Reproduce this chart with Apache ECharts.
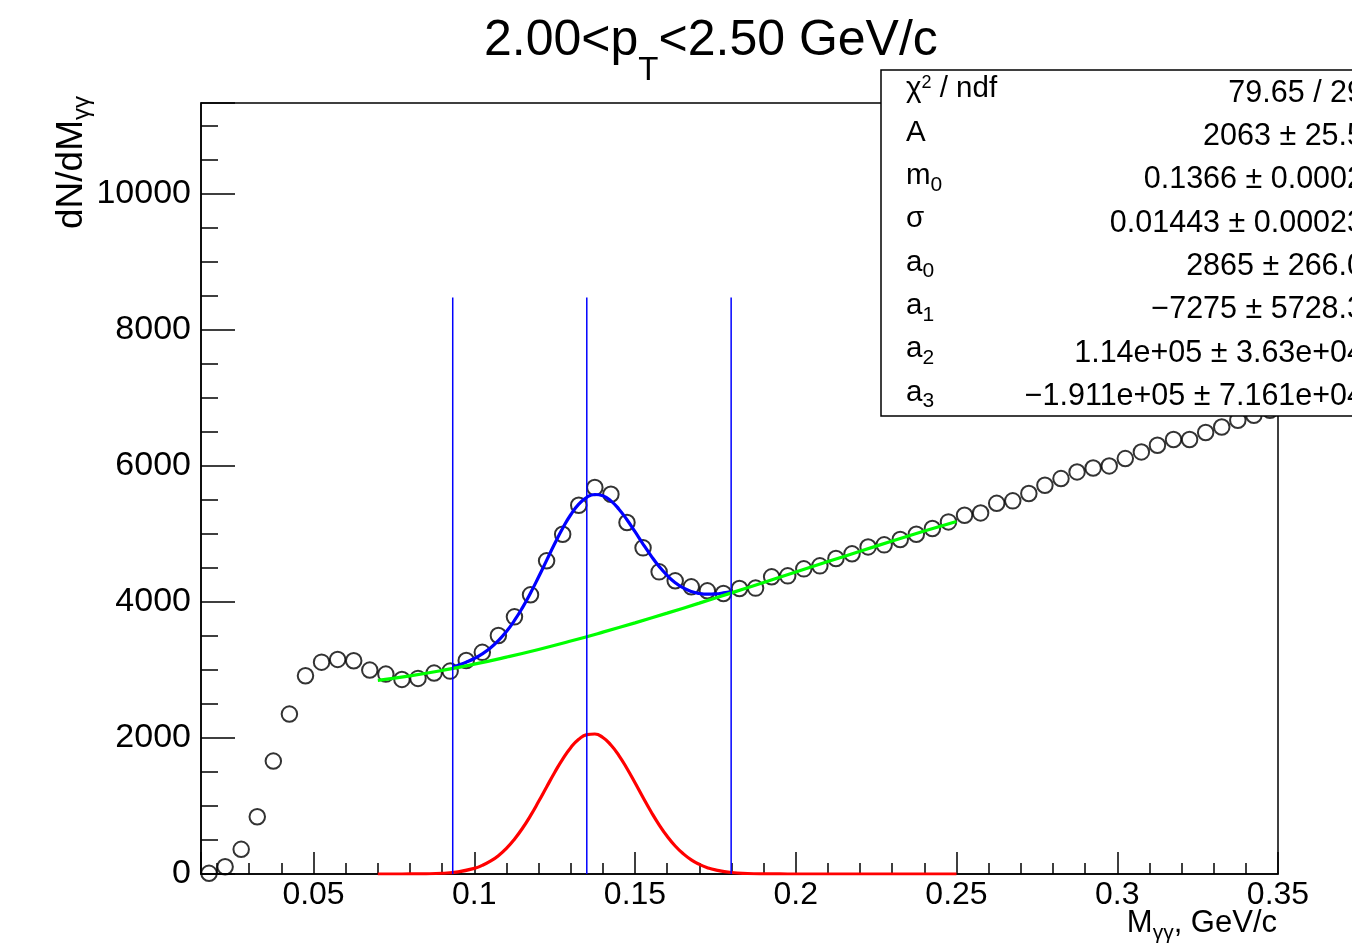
<!DOCTYPE html>
<html>
<head>
<meta charset="utf-8">
<script src="https://cdn.jsdelivr.net/npm/echarts@6/dist/echarts.min.js"></script>
<style>html,body{margin:0;padding:0;background:#fff}#c{width:1352px;height:951px}</style>
</head>
<body>
<div id="c"></div>
<script>
// ---- data ----
const binCenters = [0.0175,0.0225,0.0275,0.0325,0.0375,0.0425,0.0475,0.0525,0.0575,0.0625,
  0.0675,0.0725,0.0775,0.0825,0.0875,0.0925,0.0975,0.1025,0.1075,0.1125,
  0.1175,0.1225,0.1275,0.1325,0.1375,0.1425,0.1475,0.1525,0.1575,0.1625,
  0.1675,0.1725,0.1775,0.1825,0.1875,0.1925,0.1975,0.2025,0.2075,0.2125,
  0.2175,0.2225,0.2275,0.2325,0.2375,0.2425,0.2475,0.2525,0.2575,0.2625,
  0.2675,0.2725,0.2775,0.2825,0.2875,0.2925,0.2975,0.3025,0.3075,0.3125,
  0.3175,0.3225,0.3275,0.3325,0.3375,0.3425,0.3475];
const counts = [10,107,363,842,1661,2352,2915,3116,3156,3136,
  2999,2940,2862,2877,2955,2984,3140,3260,3508,3782,
  4106,4606,4998,5424,5684,5586,5170,4797,4444,4312,
  4224,4165,4126,4200,4205,4371,4385,4488,4532,4640,
  4709,4811,4841,4920,4998,5081,5179,5277,5311,5452,
  5488,5596,5718,5816,5914,5972,6002,6110,6208,6306,
  6390,6390,6493,6575,6674,6747,6820];

const bgX = [0.07,0.08,0.09,0.10,0.11,0.12,0.13,0.14,0.15,0.16,0.17,0.18,0.19,0.20,0.21,0.22,0.23,0.24,0.25];
const bgY = [2849,2915,2994,3086,3190,3303,3426,3557,3694,3837,3984,4135,4287,4441,4595,4747,4897,5044,5185];

const sigX = [0.07,0.075,0.08,0.085,0.09,0.095,0.1,0.1025,0.105,0.1075,0.11,0.1125,0.115,0.1175,0.12,0.1225,
  0.125,0.1275,0.13,0.1325,0.135,0.1375,0.14,0.1425,0.145,0.1475,0.15,0.1525,0.155,0.1575,0.16,0.1625,
  0.165,0.1675,0.17,0.1725,0.175,0.18,0.185,0.19,0.195,0.2,0.25];
const sigY = [0,0,1,3,11,32,83,127,188,270,377,512,673,859,1065,1280,
  1493,1691,1858,1981,2050,2059,2007,1898,1742,1551,1341,1124,915,723,554,412,
  298,208,142,93,60,22,7,2,1,0,0];

const totX = [0.0933,0.095,0.0975,0.1,0.1025,0.105,0.1075,0.11,0.1125,0.115,0.1175,0.12,
  0.1225,0.125,0.1275,0.13,0.1325,0.135,0.1375,0.14,0.1425,0.145,0.1475,0.15,
  0.1525,0.155,0.1575,0.16,0.1625,0.165,0.1675,0.17,0.1725,0.175,0.1775,0.1799];
const totY = [3046,3071,3115,3169,3238,3324,3433,3567,3729,3918,4133,4368,
  4613,4857,5085,5284,5439,5541,5582,5563,5488,5366,5210,5034,
  4853,4680,4523,4391,4285,4207,4155,4126,4115,4119,4134,4156];

const limitX = [0.0933, 0.135, 0.1799];
const limitTop = 8480;

const xRange = [0.015, 0.35];
const yRange = [0, 11340];
const yLabelStep = 2000;
const xLabelStep = 0.05;

const statLabels = ['{n|\u03c7}{sp|2}{n| / ndf}','{n|A}','{n|m}{sb|0}','{n|\u03c3}','{n|a}{sb|0}','{n|a}{sb|1}','{n|a}{sb|2}','{n|a}{sb|3}'];
const statValues = ['79.65 / 29','2063 \u00b1 25.5','0.1366 \u00b1 0.0002','0.01443 \u00b1 0.00023','2865 \u00b1 266.0','\u22127275 \u00b1 5728.3','1.14e+05 \u00b1 3.63e+04','\u22121.911e+05 \u00b1 7.161e+04'];

// ---- chart ----
const FONT = '"Liberation Sans", Arial, Helvetica, sans-serif';
const zip = (xs, ys) => xs.map((x, i) => [x, ys[i]]);
const chart = echarts.init(document.getElementById('c'), null, {renderer: 'canvas'});

const series = [
  {type: 'scatter', name: 'data', data: zip(binCenters, counts), symbol: 'circle', symbolSize: 15.5,
   itemStyle: {color: 'rgba(0,0,0,0)', borderColor: '#000', borderWidth: 2}, z: 2, silent: true},
  {type: 'line', name: 'total', data: zip(totX, totY), smooth: true, showSymbol: false,
   lineStyle: {color: '#0000ff', width: 3.2}, z: 3, silent: true},
  {type: 'line', name: 'bg', data: zip(bgX, bgY), smooth: true, showSymbol: false,
   lineStyle: {color: '#00ff00', width: 3.2}, z: 4, silent: true},
  {type: 'line', name: 'signal', data: zip(sigX, sigY), smooth: true, showSymbol: false,
   lineStyle: {color: '#ff0000', width: 3.2}, z: 4, silent: true}
];
limitX.forEach(x => series.push({type: 'line', data: [[x, 0], [x, limitTop]], showSymbol: false,
  lineStyle: {color: '#0000ff', width: 1.5}, z: 5, silent: true}));

const rowY0 = 93.3, rowDy = 43.34;
const graphic = [
  {type: 'text', x: 484, y: 41, z: 100, style: {
    text: '{m|2.00<p}{s|T}{m|<2.50 GeV/c}', textVerticalAlign: 'middle', textAlign: 'left', fill: '#000',
    rich: {m: {fontSize: 50, fontFamily: FONT, lineHeight: 60, fill: '#000'},
           s: {fontSize: 33, fontFamily: FONT, lineHeight: 60, padding: [60, 0, 0, 0], fill: '#000'}}}},
  {type: 'text', x: 72, y: 229, rotation: Math.PI / 2, z: 100, style: {
    text: '{m|dN/dM}{s|\u03b3\u03b3}', textVerticalAlign: 'middle', textAlign: 'left', fill: '#000',
    rich: {m: {fontSize: 37, fontFamily: FONT, lineHeight: 50, fill: '#000'},
           s: {fontSize: 24, fontFamily: FONT, lineHeight: 50, padding: [20, 0, 0, 0], fill: '#000'}}}},
  {type: 'text', x: 1277, y: 923, z: 100, style: {
    text: '{m|M}{s|\u03b3\u03b3}{m|, GeV/c}', textVerticalAlign: 'middle', textAlign: 'right', fill: '#000',
    rich: {m: {fontSize: 31, fontFamily: FONT, lineHeight: 50, fill: '#000'},
           s: {fontSize: 21, fontFamily: FONT, lineHeight: 50, padding: [21, 0, 0, 0], fill: '#000'}}}},
  {type: 'rect', z: 100, shape: {x: 881, y: 70, width: 520, height: 346},
   style: {fill: '#fff', stroke: '#000', lineWidth: 1.5}}
];
statLabels.forEach((t, i) => graphic.push({type: 'text', x: 906, y: rowY0 + i * rowDy - 4, z: 101, style: {
  text: t, textVerticalAlign: 'middle', textAlign: 'left', fill: '#000',
  rich: {n: {fontSize: 29.5, fontFamily: FONT, lineHeight: 44, fill: '#000'},
         sb: {fontSize: 21, fontFamily: FONT, lineHeight: 44, padding: [18, 0, 0, 0], fill: '#000'},
         sp: {fontSize: 18, fontFamily: FONT, lineHeight: 44, padding: [0, 0, 12, 0], fill: '#000'}}}}));
statValues.forEach((t, i) => graphic.push({type: 'text', x: 1364, y: rowY0 + i * rowDy, z: 101, style: {
  text: t, textVerticalAlign: 'middle', textAlign: 'right', fill: '#000', font: '30.5px ' + FONT}}));

const isMult = (v, s) => Math.abs(v / s - Math.round(v / s)) < 1e-6;

chart.setOption({
  animation: false,
  backgroundColor: '#fff',
  grid: {left: 201, top: 103, width: 1077, height: 771, show: true, borderColor: '#000', borderWidth: 1.5,
         backgroundColor: 'rgba(0,0,0,0)'},
  xAxis: {type: 'value', min: xRange[0], max: xRange[1], splitNumber: 5,
    axisLine: {show: true, onZero: false, lineStyle: {color: '#000', width: 1.5}},
    axisTick: {show: true, inside: true, length: 22, lineStyle: {color: '#000', width: 1.5}},
    minorTick: {show: true, splitNumber: 5, length: 11, lineStyle: {color: '#000', width: 1.5}},
    splitLine: {show: false}, minorSplitLine: {show: false},
    axisLabel: {show: true, margin: 5, color: '#000', fontSize: 32, fontFamily: FONT, showMinLabel: true, showMaxLabel: true,
      hideOverlap: false,
      formatter: v => isMult(v, xLabelStep) ? String(+v.toFixed(3)) : ''}},
  yAxis: {type: 'value', min: yRange[0], max: yRange[1], interval: yLabelStep,
    axisLine: {show: true, onZero: false, lineStyle: {color: '#000', width: 1.5}},
    axisTick: {show: true, inside: true, length: 34, lineStyle: {color: '#000', width: 1.5}},
    minorTick: {show: true, splitNumber: 4, length: 17, lineStyle: {color: '#000', width: 1.5}},
    splitLine: {show: false}, minorSplitLine: {show: false},
    axisLabel: {show: true, margin: 10, color: '#000', fontSize: 34, fontFamily: FONT, hideOverlap: false,
      padding: [5, 0, 0, 0],
      formatter: v => isMult(v, yLabelStep) ? String(v) : ''}},
  series: series,
  graphic: graphic
});
</script>
</body>
</html>
